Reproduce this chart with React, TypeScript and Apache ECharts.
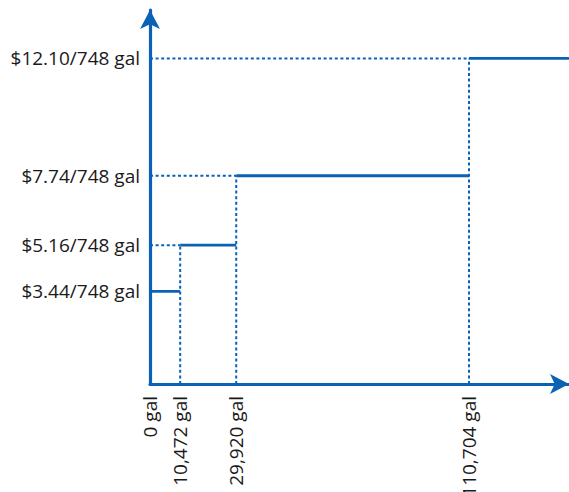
import React, { useEffect, useRef } from "react";
import * as echarts from "echarts";

// Tier breakpoints (gallons) and prices ($ per 748 gal)
const tierStarts = [0, 10472, 29920, 110704];
const tierPrices = [3.44, 5.16, 7.74, 12.1];
const xTickValues = [0, 10472, 29920, 110704];
const yTickValues = [3.44, 5.16, 7.74, 12.1];
const X_MAX = 145400;
const Y_MAX = 13.9;

const BLUE = "#0b62b4";
const FONT = "'Open Sans', 'Noto Sans', sans-serif";

export default function App() {
  const ref = useRef<HTMLDivElement>(null);

  useEffect(() => {
    if (!ref.current) return;
    const chart = echarts.init(ref.current, undefined, { renderer: "svg" });

    const series: any[] = [];
    // Solid horizontal steps
    tierStarts.forEach((start, i) => {
      const end = i < tierStarts.length - 1 ? tierStarts[i + 1] : X_MAX;
      series.push({
        type: "line",
        silent: true,
        symbol: "none",
        lineStyle: { color: BLUE, width: 2.8, type: "solid" },
        data: [
          [start, tierPrices[i]],
          [end, tierPrices[i]],
        ],
        z: 3,
      });
    });
    const dotted = { color: BLUE, width: 2, type: [3, 2.6] };
    // Dotted guides: horizontal from y-axis to the start of each step, vertical from x-axis up to each step
    tierStarts.forEach((start, i) => {
      if (start === 0) return;
      series.push({
        type: "line",
        silent: true,
        symbol: "none",
        lineStyle: dotted,
        data: [
          [0, tierPrices[i]],
          [start, tierPrices[i]],
        ],
        z: 2,
      });
      series.push({
        type: "line",
        silent: true,
        symbol: "none",
        lineStyle: dotted,
        data: [
          [start, 0],
          [start, tierPrices[i]],
        ],
        z: 2,
      });
    });

    chart.setOption({
      animation: false,
      grid: {
        left: 150,
        right: 0,
        top: 10,
        bottom: 108,
        containLabel: false,
        outerBoundsMode: "none",
      },
      xAxis: {
        type: "value",
        min: 0,
        max: X_MAX,
        splitLine: { show: false },
        axisTick: { show: false },
        axisLine: {
          show: true,
          onZero: false,
          symbol: ["none", "arrow"],
          symbolSize: [15, 19],
          lineStyle: { color: BLUE, width: 3.2 },
        },
        axisLabel: {
          customValues: xTickValues,
          rotate: 90,
          margin: 12,
          fontFamily: FONT,
          fontSize: 19,
          color: "#1a1a1a",
          formatter: (v: number) => `${v.toLocaleString("en-US")} gal`,
        },
      },
      yAxis: {
        type: "value",
        min: 0,
        max: Y_MAX,
        splitLine: { show: false },
        axisTick: { show: false },
        axisLine: {
          show: true,
          onZero: false,
          symbol: ["none", "arrow"],
          symbolSize: [15, 19],
          lineStyle: { color: BLUE, width: 3.2 },
        },
        axisLabel: {
          customValues: yTickValues,
          margin: 10,
          fontFamily: FONT,
          fontSize: 19,
          color: "#1a1a1a",
          formatter: (v: number) => `$${v.toFixed(2)}/748 gal`,
        },
      },
      series,
    });

    return () => chart.dispose();
  }, []);

  return (
    <div
      ref={ref}
      style={{ position: "absolute", left: 0, top: 0, width: 569, height: 492 }}
    />
  );
}
